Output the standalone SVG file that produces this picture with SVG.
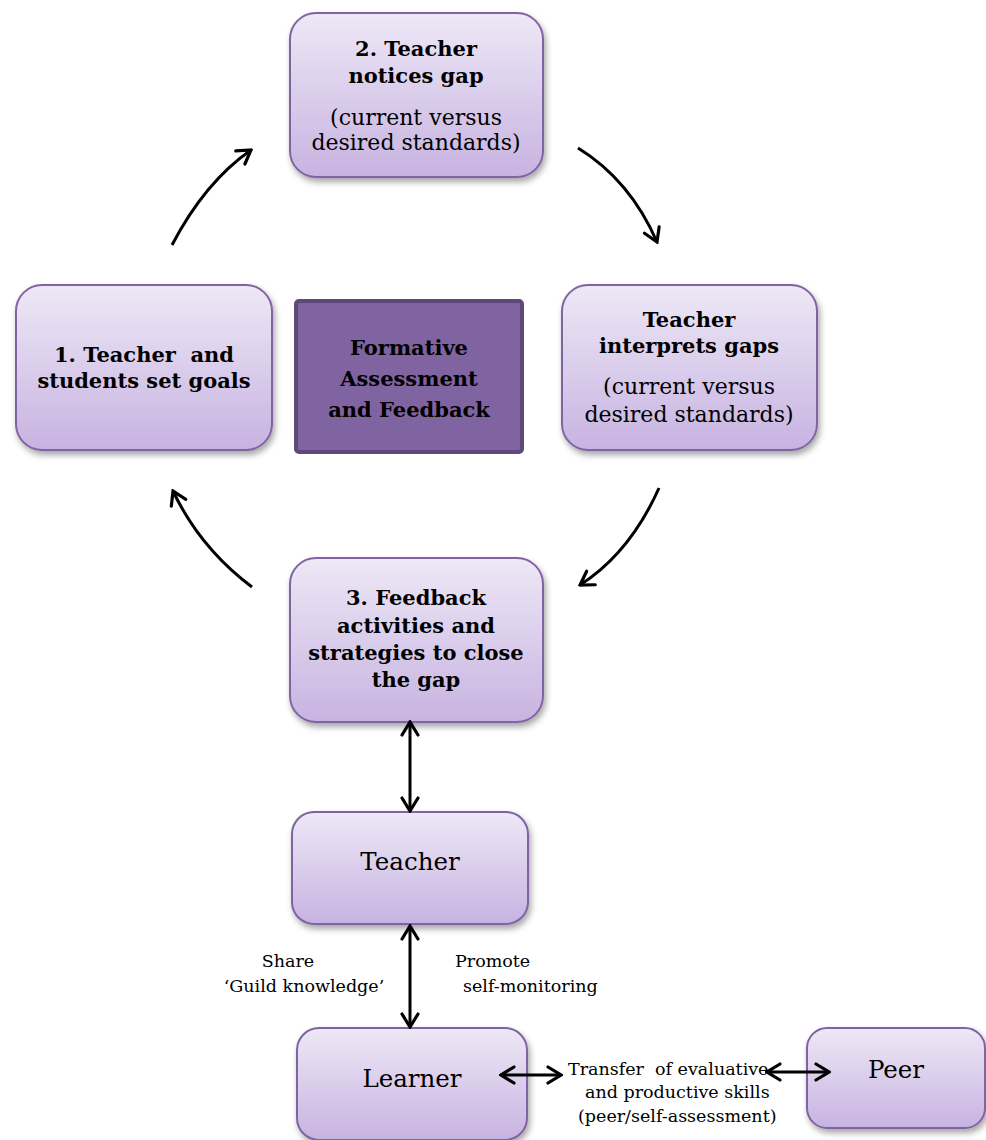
<svg xmlns="http://www.w3.org/2000/svg" width="986" height="1140" viewBox="0 0 986 1140">
<defs>
<linearGradient id="g" x1="0" y1="0" x2="0" y2="1">
<stop offset="0" stop-color="#eee8f6"/>
<stop offset="1" stop-color="#c7b3e1"/>
</linearGradient>
<filter id="sh" x="-10%" y="-10%" width="125%" height="130%">
<feDropShadow dx="2" dy="4" stdDeviation="3" flood-color="#000" flood-opacity="0.35"/>
</filter>
<marker id="ah" viewBox="0 0 20 20" refX="18" refY="10" markerWidth="20" markerHeight="20" markerUnits="userSpaceOnUse" orient="auto-start-reverse">
<path d="M5,2 L18,10 L5,18" fill="none" stroke="#000" stroke-width="3.2" stroke-linecap="round"/>
</marker>
</defs>
<style>
.node{fill:url(#g);stroke:#8064a2;stroke-width:2;filter:url(#sh)}
.t{font-family:"DejaVu Serif","Liberation Serif",serif;text-anchor:middle;fill:#000;white-space:pre}
.b{font-weight:bold;font-size:21px}
.r{font-size:22px}
.big{font-size:24.5px}
.s{font-family:"DejaVu Serif","Liberation Serif",serif;font-size:17.5px;fill:#000;white-space:pre}
.c{fill:none;stroke:#000;stroke-width:3;marker-end:url(#ah)}
.d{fill:none;stroke:#000;stroke-width:3;marker-end:url(#ah);marker-start:url(#ah)}
</style>
<g id="node-notices">
<rect class="node" x="290" y="13" width="253" height="164" rx="26"/>
<text class="t b" x="416" y="56">2. Teacher</text>
<text class="t b" x="416" y="83">notices gap</text>
<text class="t r" x="416" y="125">(current versus</text>
<text class="t r" x="416" y="150">desired standards)</text>
</g>
<g id="node-goals">
<rect class="node" x="16" y="285" width="256" height="165" rx="26"/>
<text class="t b" x="144" y="362" xml:space="preserve">1. Teacher  and</text>
<text class="t b" x="144" y="388">students set goals</text>
</g>
<g id="node-center">
<rect x="296" y="301" width="226" height="151" rx="3" fill="#8064a2" stroke="#5f497a" stroke-width="4"/>
<text class="t b" x="409" y="355">Formative</text>
<text class="t b" x="409" y="386">Assessment</text>
<text class="t b" x="409" y="417">and Feedback</text>
</g>
<g id="node-interprets">
<rect class="node" x="562" y="285" width="255" height="165" rx="26"/>
<text class="t b" x="689" y="327">Teacher</text>
<text class="t b" x="689" y="353">interprets gaps</text>
<text class="t r" x="689" y="394">(current versus</text>
<text class="t r" x="689" y="422">desired standards)</text>
</g>
<g id="node-feedback">
<rect class="node" x="290" y="558" width="253" height="164" rx="26"/>
<text class="t b" x="416" y="605">3. Feedback</text>
<text class="t b" x="416" y="633">activities and</text>
<text class="t b" x="416" y="660">strategies to close</text>
<text class="t b" x="416" y="687">the gap</text>
</g>
<g id="node-teacher">
<rect class="node" x="292" y="812" width="236" height="112" rx="22"/>
<text class="t big" x="410" y="870">Teacher</text>
</g>
<g id="node-learner">
<rect class="node" x="297" y="1028" width="230" height="112" rx="22"/>
<text class="t big" x="412" y="1087">Learner</text>
</g>
<g id="node-peer">
<rect class="node" x="807" y="1028" width="178" height="100" rx="20"/>
<text class="t big" x="896" y="1078">Peer</text>
</g>
<g id="labels">
<text class="s" x="288" y="967" text-anchor="middle">Share</text>
<text class="s" x="304" y="992" text-anchor="middle">‘Guild knowledge’</text>
<text class="s" x="455" y="967">Promote</text>
<text class="s" x="463" y="992">self-monitoring</text>
<text class="s" x="568" y="1075" xml:space="preserve">Transfer  of evaluative</text>
<text class="s" x="585" y="1098">and productive skills</text>
<text class="s" x="578" y="1122">(peer/self-assessment)</text>
</g>
<g id="connectors">
<path class="c" d="M172,245 Q205,182 251,150"/>
<path class="c" d="M578,148 Q630,180 657,242"/>
<path class="c" d="M659,488 Q630,553 580,585"/>
<path class="c" d="M252,587 Q200,548 173,491"/>
<path class="d" d="M410,722 L410,811"/>
<path class="d" d="M410,926 L410,1027"/>
<path class="d" d="M501,1075 L561,1075"/>
<path class="d" d="M767,1072 L829,1072"/>
</g>
</svg>
